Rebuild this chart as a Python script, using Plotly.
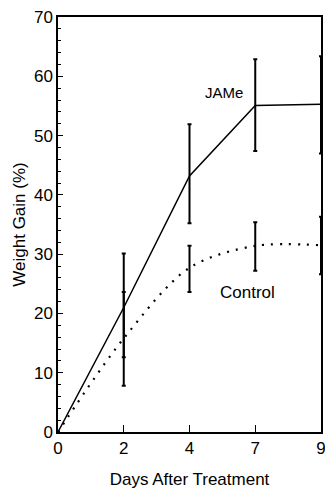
import plotly.graph_objects as go

days = ["0", "2", "4", "7", "9"]
jame_mean = [0, 21.0, 43.2, 55.1, 55.3]
jame_hi = [0, 30.1, 51.9, 62.9, 63.4]
jame_lo = [0, 7.8, 35.2, 47.4, 47.0]
ctrl_mean = [0, 15.8, 27.7, 31.4, 31.5]
ctrl_hi = [0, 23.6, 31.4, 35.4, 36.3]
ctrl_lo = [0, 12.6, 23.6, 27.2, 26.6]
y_ticks = [0, 10, 20, 30, 40, 50, 60, 70]

FONT = "Liberation Sans, Arial, sans-serif"

def err(hi, mean, lo):
    return dict(type="data", symmetric=False,
                array=[h - m for h, m in zip(hi, mean)],
                arrayminus=[m - l for m, l in zip(mean, lo)],
                color="black", thickness=2, width=2)

fig = go.Figure()
fig.add_trace(go.Scatter(x=days, y=jame_mean, mode="lines",
                         line=dict(color="black", width=1.5),
                         error_y=err(jame_hi, jame_mean, jame_lo),
                         cliponaxis=False, showlegend=False))
fig.add_trace(go.Scatter(x=days, y=ctrl_mean, mode="lines",
                         line=dict(color="black", width=2.2, shape="spline",
                                   smoothing=0.9, dash="2px,7px"),
                         error_y=err(ctrl_hi, ctrl_mean, ctrl_lo),
                         cliponaxis=False, showlegend=False))

fig.add_annotation(x=2.52, y=57.3, text="JAMe", showarrow=False,
                   font=dict(family=FONT, size=15, color="black"))
fig.add_annotation(x=2.88, y=23.5, text="Control", showarrow=False,
                   font=dict(family=FONT, size=17, color="black"))

fig.update_xaxes(type="category", range=[0, 4], showline=True, linecolor="black",
                 linewidth=1.5, mirror=True, ticks="inside", ticklen=7,
                 tickcolor="black", showgrid=False, zeroline=False, automargin=False,
                 tickfont=dict(family=FONT, size=17, color="black"),
                 title=dict(text="Days After Treatment", standoff=16,
                            font=dict(family=FONT, size=17, color="black")))
fig.update_yaxes(range=[0, 70.01], tickvals=y_ticks, showline=True, linecolor="black",
                 linewidth=1.5, mirror=True, ticks="inside", ticklen=5,
                 tickcolor="black", showgrid=False, zeroline=False, automargin=False,
                 minor=dict(dtick=2, ticks="inside", ticklen=3, tickcolor="black"),
                 tickfont=dict(family=FONT, size=17, color="black"),
                 title=dict(text="Weight Gain (%)", standoff=4,
                            font=dict(family=FONT, size=17, color="black")))

# page body has an 8px default margin; keep the right edge inside the visible area
fig.update_layout(width=325, height=483, margin=dict(l=50, r=12, t=9, b=59),
                  plot_bgcolor="white", paper_bgcolor="white")

fig.write_html("out.html")
